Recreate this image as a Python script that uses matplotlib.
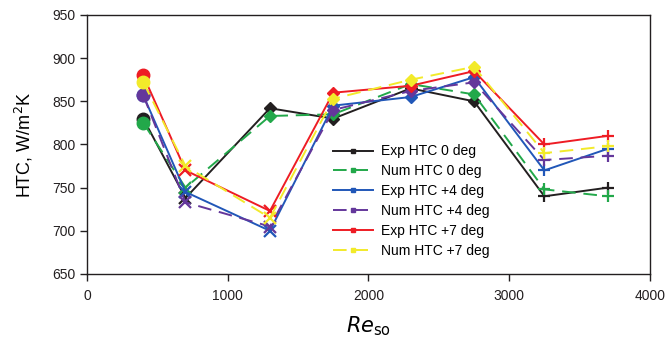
import matplotlib
matplotlib.use("Agg")
import matplotlib.pyplot as plt
from matplotlib.lines import Line2D

plt.rcParams['font.family'] = ['Liberation Sans', 'DejaVu Sans']

re_so = [400, 700, 1300, 1750, 2300, 2750, 3250, 3700]
exp_0 = [830, 738, 842, 830, 865, 850, 740, 750]
num_0 = [825, 750, 833, 835, 870, 858, 748, 740]
exp_4 = [857, 745, 700, 845, 855, 878, 770, 795]
num_4 = [857, 733, 705, 840, 862, 872, 782, 787]
exp_7 = [880, 770, 723, 860, 868, 885, 800, 810]
num_7 = [872, 775, 715, 853, 875, 890, 790, 798]
labels = ["Exp HTC 0 deg", "Num HTC 0 deg", "Exp HTC +4 deg",
          "Num HTC +4 deg", "Exp HTC +7 deg", "Num HTC +7 deg"]

series = [exp_0, num_0, exp_4, num_4, exp_7, num_7]
colors = ['#231f20', '#22a84a', '#2157b8', '#64379b', '#ee1c24', '#f2ea2a']
styles = ['-', (0, (7, 4)), '-', (0, (7, 4)), '-', (0, (7, 4))]
# marker groups by point index (0 deg series use a diamond at the third point)
groups_0deg = [('o', [0], 9), ('x', [1], 8), ('D', [2, 3, 4, 5], 6.5), ('+', [6, 7], 9)]
groups_other = [('o', [0], 9), ('x', [1, 2], 8), ('D', [3, 4, 5], 6.5), ('+', [6, 7], 9)]
marker_sets = [groups_0deg, groups_0deg, groups_other, groups_other, groups_other, groups_other]

fig = plt.figure(figsize=(6.66, 3.47), dpi=100)
ax = fig.add_axes([0.1306, 0.2104, 0.8453, 0.7464])

handles = []
for y, c, ls, lab, groups in zip(series, colors, styles, labels, marker_sets):
    ax.plot(re_so, y, color=c, linestyle=ls, linewidth=1.4)
    for m, idx, ms in groups:
        xs = [re_so[i] for i in idx]
        ys = [y[i] for i in idx]
        ax.plot(xs, ys, linestyle='none', marker=m, markersize=ms, color=c,
                markeredgewidth=1.6 if m in ('x', '+') else 1)
    handles.append(Line2D([0], [0], color=c, linestyle=ls, linewidth=1.4,
                          marker='s', markersize=3, label=lab))

ax.set_xlim(0, 4000)
ax.set_ylim(650, 950)
ax.set_xticks([0, 1000, 2000, 3000, 4000])
ax.set_yticks([650, 700, 750, 800, 850, 900, 950])
ax.tick_params(direction='out', length=5, width=1, labelsize=10, colors='#231f20')
ax.tick_params(axis='x', pad=6)
for s in ax.spines.values():
    s.set_linewidth(1)
    s.set_color('#231f20')

ax.set_ylabel("HTC, W/m$^2$K", fontsize=13, labelpad=12)
ax.set_xlabel(r"$\mathit{Re}_{\mathrm{so}}$", fontsize=15, labelpad=8)

ax.legend(handles=handles, loc='upper left', bbox_to_anchor=(0.437, 0.50),
          frameon=False, fontsize=10, handlelength=2.9, labelspacing=0.42,
          handletextpad=0.55, borderaxespad=0, borderpad=0)

fig.savefig("out.png", dpi=100)
